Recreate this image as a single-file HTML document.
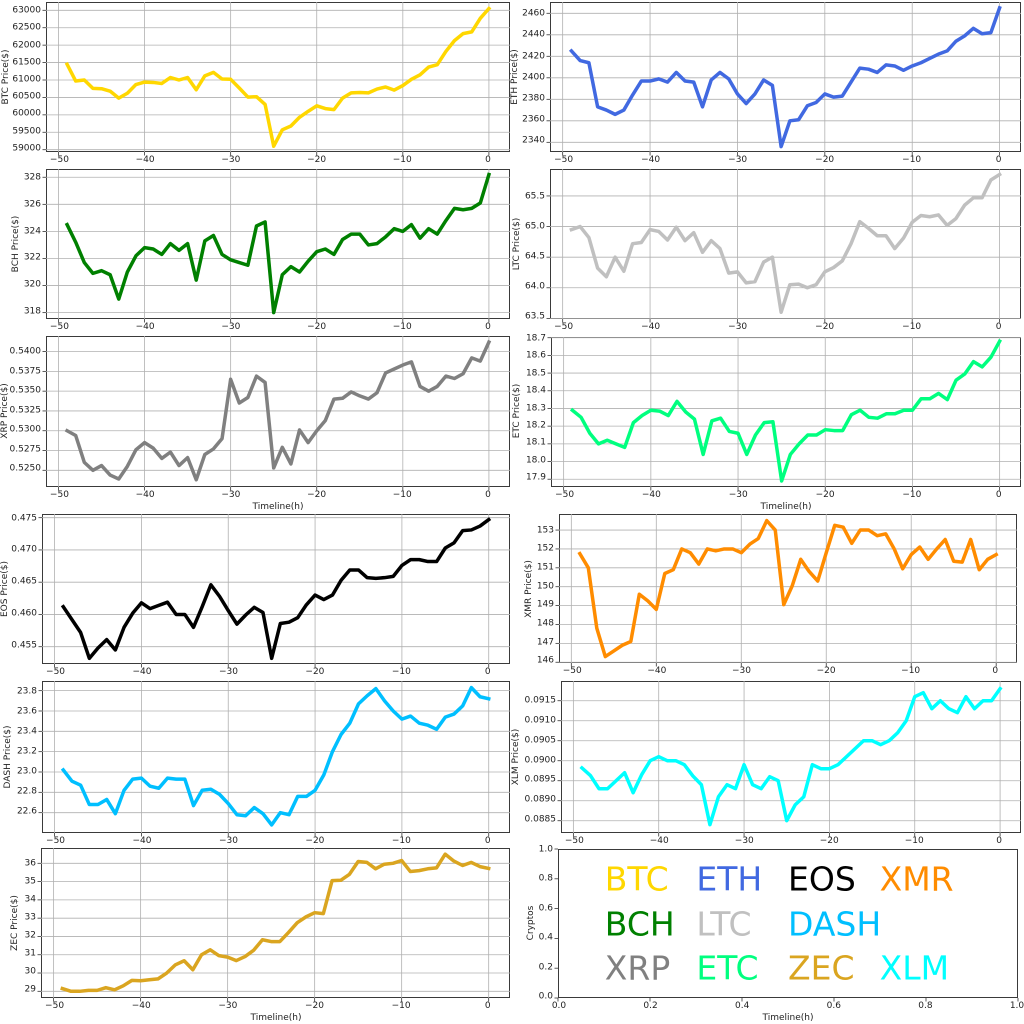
<!DOCTYPE html>
<html><head><meta charset="utf-8"><style>
body{margin:0;width:1024px;height:1024px;background:#fff;position:relative;overflow:hidden;font-family:"DejaVu Sans","Liberation Sans",sans-serif;color:#222}
.ax{position:absolute;box-sizing:border-box;border:1px solid #3a3a3a}
.ax svg{position:absolute;left:-1px;top:-1px;overflow:visible}
.yt,.xt{position:absolute;font-size:9px;line-height:9px;white-space:nowrap}
.yt{right:calc(100% + 6px);transform:translateY(-50%)}
.xt{top:calc(100% + 5px);transform:translateX(-50%)}
.yl{position:absolute;font-size:9px;white-space:nowrap;transform:translate(-50%,-50%) rotate(-90deg)}
.xl{position:absolute;font-size:9px;white-space:nowrap;transform:translateX(-50%)}
.lg{position:absolute;font-size:33px;line-height:33px;transform:translateY(-50%)}
</style></head><body>

<div class="ax" id="btc" style="left:46px;top:2px;width:464px;height:150px">
<div class="yt" style="top:5.53%">63000</div><div class="yt" style="top:17.15%">62500</div><div class="yt" style="top:28.76%">62000</div><div class="yt" style="top:40.38%">61500</div><div class="yt" style="top:52%">61000</div><div class="yt" style="top:63.62%">60500</div><div class="yt" style="top:75.23%">60000</div><div class="yt" style="top:86.85%">59500</div><div class="yt" style="top:98.47%">59000</div>
<div class="xt" style="left:2.69%">−50</div><div class="xt" style="left:21.24%">−40</div><div class="xt" style="left:39.8%">−30</div><div class="xt" style="left:58.35%">−20</div><div class="xt" style="left:76.9%">−10</div><div class="xt" style="left:95.45%">0</div>
</div>
<div class="yl" style="left:6px;top:77px">BTC Price($)</div>

<div class="ax" id="bch" style="left:46px;top:169px;width:464px;height:150px">
<div class="yt" style="top:5.51%">328</div><div class="yt" style="top:23.56%">326</div><div class="yt" style="top:41.61%">324</div><div class="yt" style="top:59.66%">322</div><div class="yt" style="top:77.71%">320</div><div class="yt" style="top:95.76%">318</div>
<div class="xt" style="left:2.69%">−50</div><div class="xt" style="left:21.24%">−40</div><div class="xt" style="left:39.8%">−30</div><div class="xt" style="left:58.35%">−20</div><div class="xt" style="left:76.9%">−10</div><div class="xt" style="left:95.45%">0</div>
</div>
<div class="yl" style="left:16px;top:244px">BCH Price($)</div>

<div class="ax" id="xrp" style="left:46px;top:336px;width:464px;height:151px">
<div class="yt" style="top:10.3%">0.5400</div><div class="yt" style="top:23.4%">0.5375</div><div class="yt" style="top:36.5%">0.5350</div><div class="yt" style="top:49.6%">0.5325</div><div class="yt" style="top:62.7%">0.5300</div><div class="yt" style="top:75.8%">0.5275</div><div class="yt" style="top:88.9%">0.5250</div>
<div class="xt" style="left:2.69%">−50</div><div class="xt" style="left:21.24%">−40</div><div class="xt" style="left:39.8%">−30</div><div class="xt" style="left:58.35%">−20</div><div class="xt" style="left:76.9%">−10</div><div class="xt" style="left:95.45%">0</div>
</div>
<div class="yl" style="left:5px;top:411px">XRP Price($)</div>
<div class="xl" style="left:278px;top:502px">Timeline(h)</div>

<div class="ax" id="eos" style="left:42px;top:514px;width:468px;height:150px">
<div class="yt" style="top:2.45%">0.475</div><div class="yt" style="top:23.96%">0.470</div><div class="yt" style="top:45.46%">0.465</div><div class="yt" style="top:66.97%">0.460</div><div class="yt" style="top:88.47%">0.455</div>
<div class="xt" style="left:2.69%">−50</div><div class="xt" style="left:21.24%">−40</div><div class="xt" style="left:39.8%">−30</div><div class="xt" style="left:58.35%">−20</div><div class="xt" style="left:76.9%">−10</div><div class="xt" style="left:95.45%">0</div>
</div>
<div class="yl" style="left:5px;top:589px">EOS  Price($)</div>

<div class="ax" id="dash" style="left:42px;top:681px;width:468px;height:152px">
<div class="yt" style="top:6.35%">23.8</div><div class="yt" style="top:19.73%">23.6</div><div class="yt" style="top:33.11%">23.4</div><div class="yt" style="top:46.49%">23.2</div><div class="yt" style="top:59.87%">23.0</div><div class="yt" style="top:73.24%">22.8</div><div class="yt" style="top:86.62%">22.6</div>
<div class="xt" style="left:2.69%">−50</div><div class="xt" style="left:21.24%">−40</div><div class="xt" style="left:39.8%">−30</div><div class="xt" style="left:58.35%">−20</div><div class="xt" style="left:76.9%">−10</div><div class="xt" style="left:95.45%">0</div>
</div>
<div class="yl" style="left:8px;top:757px">DASH  Price($)</div>

<div class="ax" id="zec" style="left:41px;top:848px;width:469px;height:150px">
<div class="yt" style="top:10.2%">36</div><div class="yt" style="top:22.4%">35</div><div class="yt" style="top:34.6%">34</div><div class="yt" style="top:46.8%">33</div><div class="yt" style="top:59%">32</div><div class="yt" style="top:71.2%">31</div><div class="yt" style="top:83.4%">30</div><div class="yt" style="top:95.6%">29</div>
<div class="xt" style="left:2.69%">−50</div><div class="xt" style="left:21.24%">−40</div><div class="xt" style="left:39.8%">−30</div><div class="xt" style="left:58.35%">−20</div><div class="xt" style="left:76.9%">−10</div><div class="xt" style="left:95.45%">0</div>
</div>
<div class="yl" style="left:15px;top:923px">ZEC Price($)</div>
<div class="xl" style="left:276px;top:1013px">Timeline(h)</div>

<div class="ax" id="eth" style="left:550px;top:2px;width:471px;height:150px">
<div class="yt" style="top:7.53%">2460</div><div class="yt" style="top:21.87%">2440</div><div class="yt" style="top:36.2%">2420</div><div class="yt" style="top:50.5%">2400</div><div class="yt" style="top:64.9%">2380</div><div class="yt" style="top:79.2%">2360</div><div class="yt" style="top:93.5%">2340</div>
<div class="xt" style="left:2.69%">−50</div><div class="xt" style="left:21.24%">−40</div><div class="xt" style="left:39.8%">−30</div><div class="xt" style="left:58.35%">−20</div><div class="xt" style="left:76.9%">−10</div><div class="xt" style="left:95.45%">0</div>
</div>
<div class="yl" style="left:515px;top:77px">ETH  Price($)</div>

<div class="ax" id="ltc" style="left:550px;top:169px;width:471px;height:150px">
<div class="yt" style="top:17.96%">65.5</div><div class="yt" style="top:38.37%">65.0</div><div class="yt" style="top:58.78%">64.5</div><div class="yt" style="top:79.18%">64.0</div><div class="yt" style="top:99.6%">63.5</div>
<div class="xt" style="left:2.69%">−50</div><div class="xt" style="left:21.24%">−40</div><div class="xt" style="left:39.8%">−30</div><div class="xt" style="left:58.35%">−20</div><div class="xt" style="left:76.9%">−10</div><div class="xt" style="left:95.45%">0</div>
</div>
<div class="yl" style="left:517px;top:244px">LTC  Price($)</div>

<div class="ax" id="etc" style="left:551px;top:337px;width:470px;height:150px">
<div class="yt" style="top:0.47%">18.7</div><div class="yt" style="top:12.26%">18.6</div><div class="yt" style="top:24.06%">18.5</div><div class="yt" style="top:35.85%">18.4</div><div class="yt" style="top:47.64%">18.3</div><div class="yt" style="top:59.43%">18.2</div><div class="yt" style="top:71.23%">18.1</div><div class="yt" style="top:83.02%">18.0</div><div class="yt" style="top:94.8%">17.9</div>
<div class="xt" style="left:2.69%">−50</div><div class="xt" style="left:21.24%">−40</div><div class="xt" style="left:39.8%">−30</div><div class="xt" style="left:58.35%">−20</div><div class="xt" style="left:76.9%">−10</div><div class="xt" style="left:95.45%">0</div>
</div>
<div class="yl" style="left:517px;top:411px">ETC  Price($)</div>
<div class="xl" style="left:786px;top:502px">Timeline(h)</div>

<div class="ax" id="xmr" style="left:559px;top:514px;width:458px;height:149px">
<div class="yt" style="top:10.8%">153</div><div class="yt" style="top:23.45%">152</div><div class="yt" style="top:36.1%">151</div><div class="yt" style="top:48.8%">150</div><div class="yt" style="top:61.5%">149</div><div class="yt" style="top:74.1%">148</div><div class="yt" style="top:86.8%">147</div><div class="yt" style="top:99.5%">146</div>
<div class="xt" style="left:2.69%">−50</div><div class="xt" style="left:21.24%">−40</div><div class="xt" style="left:39.8%">−30</div><div class="xt" style="left:58.35%">−20</div><div class="xt" style="left:76.9%">−10</div><div class="xt" style="left:95.45%">0</div>
</div>
<div class="yl" style="left:529px;top:589px">XMR  Price($)</div>

<div class="ax" id="xlm" style="left:561px;top:681px;width:460px;height:152px">
<div class="yt" style="top:12.97%">0.0915</div><div class="yt" style="top:26.1%">0.0910</div><div class="yt" style="top:39.3%">0.0905</div><div class="yt" style="top:52.5%">0.0900</div><div class="yt" style="top:65.6%">0.0895</div><div class="yt" style="top:78.8%">0.0890</div><div class="yt" style="top:91.9%">0.0885</div>
<div class="xt" style="left:2.69%">−50</div><div class="xt" style="left:21.24%">−40</div><div class="xt" style="left:39.8%">−30</div><div class="xt" style="left:58.35%">−20</div><div class="xt" style="left:76.9%">−10</div><div class="xt" style="left:95.45%">0</div>
</div>
<div class="yl" style="left:516px;top:757px">XLM Price($)</div>

<div class="ax" id="leg" style="left:558px;top:849px;width:460px;height:149px">
<div class="yt" style="top:0%">1.0</div><div class="yt" style="top:20%">0.8</div><div class="yt" style="top:40%">0.6</div><div class="yt" style="top:60%">0.4</div><div class="yt" style="top:80%">0.2</div><div class="yt" style="top:100%">0.0</div>
<div class="xt" style="left:0%">0.0</div><div class="xt" style="left:20%">0.2</div><div class="xt" style="left:40%">0.4</div><div class="xt" style="left:60%">0.6</div><div class="xt" style="left:80%">0.8</div><div class="xt" style="left:100%">1.0</div>
<div class="lg" style="left:10%;top:20%;color:#FFD700">BTC</div>
<div class="lg" style="left:30%;top:20%;color:#4169E1">ETH</div>
<div class="lg" style="left:50%;top:20%;color:#000">EOS</div>
<div class="lg" style="left:70%;top:20%;color:#FF8C00">XMR</div>
<div class="lg" style="left:10%;top:50%;color:#008000">BCH</div>
<div class="lg" style="left:30%;top:50%;color:#C0C0C0">LTC</div>
<div class="lg" style="left:50%;top:50%;color:#00BFFF">DASH</div>
<div class="lg" style="left:10%;top:80%;color:#808080">XRP</div>
<div class="lg" style="left:30%;top:80%;color:#00FF7F">ETC</div>
<div class="lg" style="left:50%;top:80%;color:#DAA520">ZEC</div>
<div class="lg" style="left:70%;top:80%;color:#00FFFF">XLM</div>
</div>
<div class="yl" style="left:531px;top:923px">Cryptos</div>
<div class="xl" style="left:788px;top:1013px">Timeline(h)</div>

<script>
var P=[
["btc",58934,63238,[59000,59500,60000,60500,61000,61500,62000,62500,63000],"#FFD700",[61450,60970,61000,60760,60750,60680,60480,60620,60870,60940,60930,60900,61070,61000,61070,60720,61120,61220,61030,61020,60770,60510,60520,60300,59100,59570,59680,59930,60100,60260,60180,60150,60480,60630,60640,60630,60740,60800,60710,60840,61020,61150,61370,61440,61820,62130,62330,62380,62770,63050]],
["eth",2331,2470.5,[2340,2360,2380,2400,2420,2440,2460],"#4169E1",[2425,2416,2414,2373,2370,2366,2370,2384,2397,2397,2399,2396,2405,2397,2396,2373,2398,2405,2399,2385,2376,2385,2398,2393,2336,2360,2361,2374,2377,2385,2382,2383,2396,2409,2408,2405,2412,2411,2407,2411,2414,2418,2422,2425,2434,2439,2446,2441,2442,2465]],
["bch",317.53,328.61,[318,320,322,324,326,328],"#008000",[324.5,323.2,321.7,320.9,321.1,320.8,319.0,321.0,322.2,322.8,322.7,322.3,323.1,322.6,323.1,320.4,323.3,323.7,322.3,321.9,321.7,321.5,324.4,324.7,318.0,320.8,321.4,321.0,321.8,322.5,322.7,322.3,323.4,323.8,323.8,323.0,323.1,323.6,324.2,324.0,324.5,323.5,324.2,323.8,324.8,325.7,325.6,325.7,326.1,328.2]],
["ltc",63.49,65.94,[63.5,64,64.5,65,65.5],"#C0C0C0",[64.95,65.0,64.82,64.32,64.18,64.5,64.27,64.72,64.74,64.95,64.92,64.78,64.99,64.77,64.9,64.58,64.77,64.64,64.24,64.26,64.08,64.1,64.42,64.5,63.6,64.05,64.06,64.0,64.05,64.26,64.33,64.44,64.72,65.08,64.97,64.85,64.85,64.64,64.81,65.07,65.18,65.16,65.19,65.02,65.13,65.35,65.47,65.47,65.76,65.85]],
["xrp",0.52289,0.54197,[0.525,0.5275,0.53,0.5325,0.535,0.5375,0.54],"#808080",[.5300,.5294,.5260,.5250,.5256,.5244,.5239,.5255,.5276,.5285,.5278,.5265,.5273,.5256,.5266,.5238,.5270,.5277,.5290,.5365,.5335,.5342,.5369,.5361,.5253,.5279,.5258,.5301,.5285,.5300,.5313,.5340,.5341,.5349,.5344,.5340,.5348,.5373,.5378,.5383,.5387,.5356,.5350,.5356,.5369,.5366,.5372,.5392,.5388,.5412]],
["etc",17.856,18.704,[17.9,18,18.1,18.2,18.3,18.4,18.5,18.6,18.7],"#00FF7F",[18.29,18.25,18.16,18.10,18.12,18.10,18.08,18.22,18.26,18.29,18.285,18.26,18.34,18.28,18.24,18.04,18.23,18.245,18.17,18.16,18.04,18.15,18.22,18.225,17.89,18.04,18.1,18.15,18.15,18.18,18.175,18.175,18.265,18.29,18.25,18.245,18.27,18.27,18.29,18.29,18.355,18.355,18.385,18.35,18.46,18.495,18.565,18.535,18.59,18.68]],
["eos",0.45232,0.47557,[0.455,0.46,0.465,0.47,0.475],"#000000",[.4612,.4592,.4572,.4532,.4548,.4561,.4545,.4580,.4602,.4618,.4609,.4614,.4619,.4600,.4600,.4580,.4612,.4646,.4628,.4606,.4585,.4599,.4611,.4603,.4532,.4586,.4588,.4595,.4615,.4630,.4623,.4630,.4653,.4669,.4669,.4657,.4656,.4657,.4659,.4676,.4685,.4685,.4682,.4682,.4703,.4711,.4730,.4731,.4737,.4747]],
["xmr",145.96,153.85,[146,147,148,149,150,151,152,153],"#FF8C00",[151.75,151.0,147.8,146.3,146.6,146.9,147.1,149.6,149.25,148.8,150.7,150.9,152.0,151.8,151.2,152.0,151.9,152.0,152.0,151.8,152.25,152.55,153.5,153.0,149.05,150.05,151.45,150.8,150.3,151.8,153.25,153.15,152.3,153.0,153.0,152.7,152.8,152.0,150.95,151.7,152.1,151.45,152.0,152.5,151.35,151.3,152.5,150.9,151.45,151.7]],
["dash",22.40,23.895,[22.6,22.8,23,23.2,23.4,23.6,23.8],"#00BFFF",[23.02,22.91,22.87,22.68,22.68,22.73,22.59,22.82,22.93,22.94,22.86,22.84,22.94,22.93,22.93,22.67,22.82,22.83,22.78,22.69,22.58,22.57,22.65,22.59,22.48,22.60,22.58,22.76,22.76,22.82,22.97,23.20,23.37,23.48,23.67,23.75,23.82,23.70,23.60,23.52,23.55,23.48,23.46,23.42,23.54,23.57,23.65,23.83,23.74,23.72]],
["xlm",0.088193,0.091993,[0.0885,0.089,0.0895,0.09,0.0905,0.091,0.0915],"#00FFFF",[.08982,.08963,.0893,.0893,.0895,.0897,.0892,.08965,.0900,.0901,.0900,.0900,.0899,.08962,.0894,.0884,.0891,.0894,.0893,.0899,.0894,.0893,.0896,.0895,.0885,.0889,.0891,.0899,.0898,.0898,.0899,.0901,.0903,.0905,.0905,.0904,.0905,.0907,.0910,.0916,.0917,.0913,.0915,.0913,.0912,.0916,.0913,.0915,.0915,.0918]],
["zec",28.634,36.837,[29,30,31,32,33,34,35,36],"#DAA520",[29.15,29.0,29.0,29.05,29.05,29.2,29.08,29.3,29.6,29.58,29.63,29.68,30.0,30.45,30.67,30.18,31.0,31.27,30.95,30.87,30.68,30.9,31.25,31.82,31.72,31.72,32.22,32.75,33.07,33.3,33.25,35.05,35.07,35.4,36.1,36.05,35.7,35.95,36.0,36.15,35.55,35.6,35.7,35.75,36.5,36.12,35.88,36.05,35.82,35.72]]
];
var NS="http://www.w3.org/2000/svg";
function mk(par,tag,at){var e=document.createElementNS(NS,tag);for(var k in at)e.setAttribute(k,at[k]);par.appendChild(e);return e;}
function setup(id,xs,ys,grid){
  var d=document.getElementById(id),w=d.offsetWidth,h=d.offsetHeight;
  var s=mk(d,"svg",{width:w,height:h});d.insertBefore(s,d.firstChild);
  xs.forEach(function(f){var x=f*w;if(grid)mk(s,"line",{x1:x,x2:x,y1:0,y2:h,stroke:"#b0b0b0","stroke-width":0.8});mk(s,"line",{x1:x,x2:x,y1:h,y2:h+3.5,stroke:"#333","stroke-width":0.8});});
  ys.forEach(function(f){var y=f*h;if(grid)mk(s,"line",{x1:0,x2:w,y1:y,y2:y,stroke:"#b0b0b0","stroke-width":0.8});mk(s,"line",{x1:-3.5,x2:0,y1:y,y2:y,stroke:"#333","stroke-width":0.8});});
  return {s:s,w:w,h:h};
}
var xf=[-50,-40,-30,-20,-10,0].map(function(v){return (v+51.45)/53.9;});
P.forEach(function(p){
  var r=setup(p[0],xf,p[3].map(function(v){return (p[2]-v)/(p[2]-p[1]);}),true);
  var pts=p[5].map(function(v,i){var x=(i-49+51.45)/53.9*r.w,y=(p[2]-v)/(p[2]-p[1])*r.h;return x.toFixed(2)+","+y.toFixed(2);}).join(" ");
  mk(r.s,"polyline",{points:pts,fill:"none",stroke:p[4],"stroke-width":3.5,"stroke-linejoin":"round","stroke-linecap":"square"});
});
setup("leg",[0,.2,.4,.6,.8,1],[0,.2,.4,.6,.8,1],false);
</script>
</body></html>
